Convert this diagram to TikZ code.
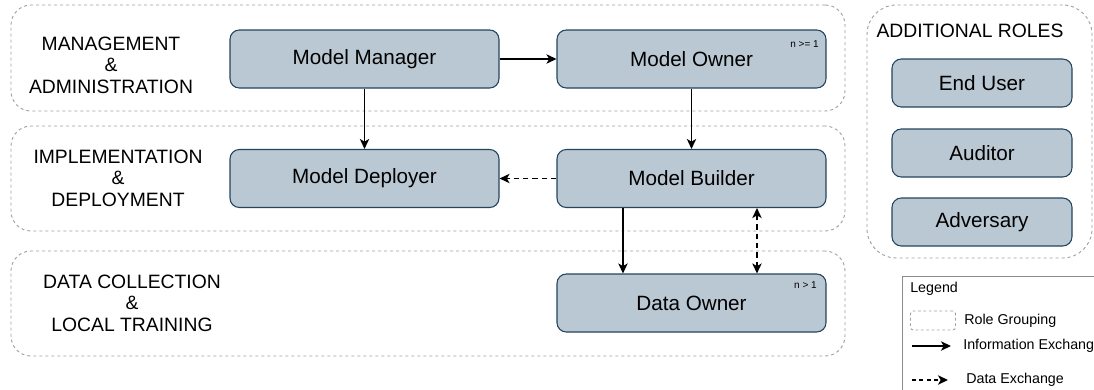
\documentclass[tikz,border=0pt]{standalone}
\usepackage{fontspec}
\setmainfont{Liberation Sans}
\usetikzlibrary{arrows.meta}
\definecolor{rolefill}{RGB}{186,200,211}
\definecolor{roleline}{RGB}{35,68,93}
\definecolor{groupline}{RGB}{160,160,160}
\definecolor{legendline}{RGB}{140,140,140}
\begin{document}
\begin{tikzpicture}[x=0.75pt, y=-0.75pt,
  role/.style={rectangle, rounded corners=7pt, draw=roleline, line width=0.8pt, fill=rolefill,
    minimum width=201.75pt, minimum height=43.5pt, inner sep=0pt, font=\fontsize{15.5}{18}\selectfont},
  smallrole/.style={role, minimum width=135pt, minimum height=36pt},
  group/.style={rectangle, rounded corners=15pt, draw=groupline, line width=0.7pt,
    dash pattern=on 2.25pt off 2.25pt, minimum width=625.5pt, inner sep=0pt},
  grouplabel/.style={align=center, font=\fontsize{14.5}{16.2}\selectfont},
  note/.style={font=\fontsize{7.5}{8}\selectfont, inner sep=0pt},
  legendtext/.style={anchor=west, inner sep=0pt, font=\fontsize{10.7}{12}\selectfont},
  info/.style={-{Stealth[length=7.5pt, width=7pt, inset=2pt]}, line width=1.2pt},
  dataex/.style={info, dash pattern=on 4pt off 3pt},
  both/.style={{Stealth[length=7.5pt, width=7pt, inset=2pt]}-{Stealth[length=7.5pt, width=7pt, inset=2pt]}, line width=1.2pt, dash pattern=on 4pt off 3pt}]
\useasboundingbox (0,0) rectangle (1094,389);
\clip (0,0) rectangle (1094,389);

\node[group, minimum height=79.5pt] (mgmt) at (428,58) {};
\node[group, minimum height=78.75pt] (impl) at (428,178.5) {};
\node[group, minimum height=78.75pt] (datacol) at (428,303.5) {};
\node[group, rounded corners=22pt, minimum width=168.75pt, minimum height=189.75pt] (additional) at (979.5,131.5) {};

\node[grouplabel] (mgmtlabel) at (111,65) {MANAGEMENT\\\&\\ADMINISTRATION};
\node[grouplabel] (impllabel) at (118,178) {IMPLEMENTATION\\\&\\DEPLOYMENT};
\node[grouplabel] (datalabel) at (132,303) {DATA COLLECTION\\\&\\LOCAL TRAINING};
\node[grouplabel] (addlabel) at (970,31) {ADDITIONAL ROLES};

\node[role] (manager) at (364.5,59) {Model Manager};
\node[role] (owner) at (691.5,59) {Model Owner};
\node[role] (deployer) at (364.5,178.5) {Model Deployer};
\node[role] (builder) at (691.5,178.5) {Model Builder};
\node[role] (dataowner) at (691.5,303) {Data Owner};
\node[note, anchor=east] (ownern) at (819,44) {n >= 1};
\node[note, anchor=east] (dataownern) at (817,285) {n > 1};

\node[smallrole] (enduser) at (982,83) {End User};
\node[smallrole] (auditor) at (982,153) {Auditor};
\node[smallrole] (adversary) at (982,222) {Adversary};

\draw[info] (manager) -- (owner);
\draw[info] (manager) -- (deployer);
\draw[info] (owner) -- (builder);
\draw[dataex] (builder) -- (deployer);
\draw[info] ([xshift=-51.4pt]builder.south) -- ([xshift=-51.4pt]dataowner.north);
\draw[both] ([xshift=49.1pt]builder.south) -- ([xshift=49.1pt]dataowner.north);

\node[rectangle, draw=legendline, line width=0.8pt, fill=white, anchor=north west,
  minimum width=160pt, minimum height=100pt] (legend) at (902,276) {};
\node[legendtext] (legendtitle) at (910,289) {Legend};
\node[rectangle, rounded corners=2pt, draw=groupline, line width=0.7pt, dash pattern=on 2pt off 2pt,
  minimum width=33.75pt, minimum height=14.25pt, anchor=west] (legendgroup) at (910,320.5) {};
\node[legendtext] (legendgrouptext) at (964,321) {Role Grouping};
\coordinate (infostart) at (912,346);
\coordinate (infoend) at (951,346);
\draw[info] (infostart) -- (infoend);
\node[legendtext] (legendinfotext) at (963,346) {Information Exchange};
\coordinate (datastart) at (912,380);
\coordinate (dataend) at (948,380);
\draw[dataex, dash pattern=on 3pt off 2.5pt] (datastart) -- (dataend);
\node[legendtext] (legenddatatext) at (966,380) {Data Exchange};
\end{tikzpicture}
\end{document}
